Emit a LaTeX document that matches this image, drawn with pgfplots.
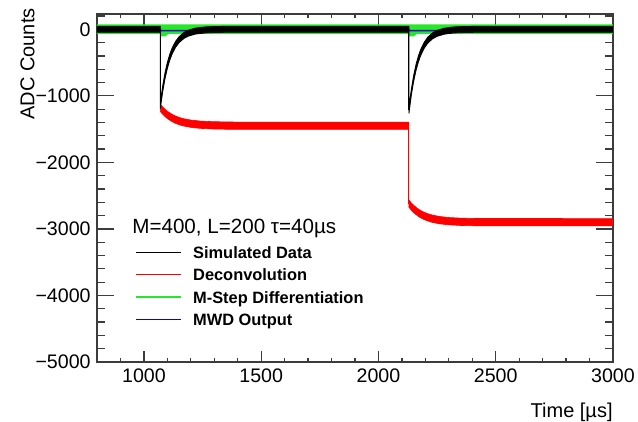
\documentclass[border=0pt]{standalone}
\usepackage{fontspec}
\setmainfont{Liberation Sans}
\usepackage{pgfplots}
\pgfplotsset{compat=1.18}

\definecolor{rootgreen}{RGB}{40,230,40}
\definecolor{mwdblue}{RGB}{0,0,240}
\definecolor{frame}{RGB}{60,60,60}

\pgfplotsset{
  root frame/.style={
    at={(0,0)}, anchor=south west,
    scale only axis,
    width=258pt, height=174pt,
    xmin=800, xmax=3000,
    ymin=-5000, ymax=230,
    tick align=inside,
    axis line style={frame, line width=0.6pt},
    tick style={frame, line width=0.6pt},
    tick label style={font=\fontsize{9.8}{11}\selectfont},
  }
}

\begin{document}
\begin{tikzpicture}
% x ticks (shorter than the y ticks)
\begin{axis}[
  root frame,
  major tick length=5.5pt, minor tick length=2.2pt,
  axis line style={draw=none},
  ytick=\empty,
  xtick={1000,1500,2000,2500,3000},
  xticklabels={1000,1500,2000,2500,3000},
  minor xtick={900,1100,1200,1300,1400,1600,1700,1800,1900,2100,2200,2300,2400,2600,2700,2800,2900},
  xticklabel style={inner sep=0pt, anchor=north, yshift=-3pt},
]
\end{axis}
\begin{axis}[
  root frame,
  major tick length=8.3pt, minor tick length=4.2pt,
  xtick=\empty,
  ytick={-5000,-4000,-3000,-2000,-1000,0},
  yticklabels={−5000,−4000,−3000,−2000,−1000,0},
  minor ytick={-4800,-4600,-4400,-4200,-3800,-3600,-3400,-3200,-2800,-2600,-2400,-2200,-1800,-1600,-1400,-1200,-800,-600,-400,-200,200},
  yticklabel style={inner sep=0pt, anchor=east, xshift=-3pt},
  xlabel={Time [µs]},
  xlabel style={at={(axis description cs:1,-0.1609)}, anchor=base east, inner sep=0pt, font=\fontsize{10}{12}\selectfont},
  ylabel={ADC Counts},
  ylabel style={at={(axis description cs:-0.1202,1.0172)}, anchor=south east, inner sep=0pt, font=\fontsize{10}{12}\selectfont},
  legend style={at={(axis description cs:0.0736,0.3333)}, anchor=north west,
    draw=none, fill=none, inner sep=0pt,
    font=\bfseries\fontsize{8.2}{9}\selectfont,
    row sep=5.15pt,
    nodes={inner sep=0pt, text height=6pt, text depth=0pt},
    /tikz/every odd column/.style={column sep=5.5pt}},
  legend cell align=left,
  legend image code/.code={\draw[#1] (0pt,0pt) -- (22.5pt,0pt);},
]
\addlegendimage{color=black, line width=0.5pt}
\addlegendentry{Simulated Data}
\addlegendimage{color=red, line width=0.5pt}
\addlegendentry{Deconvolution}
\addlegendimage{color=rootgreen, line width=0.9pt}
\addlegendentry{M-Step Differentiation}
\addlegendimage{color=mwdblue, line width=0.7pt}
\addlegendentry{MWD Output}

% Deconvolution (band of noise +-55)
\addplot[fill=red, draw=red, line width=0.3pt, forget plot] coordinates {
(1070,-1125)(1080,-1166)(1090,-1202)(1100,-1231)(1115,-1267)(1130,-1296)(1150,-1324)(1170,-1344)(1200,-1364)(1240,-1379)(1290,-1388)(1350,-1392)(1400,-1395)(2130,-1395)
(2130,-2565)(2140,-2608)(2150,-2644)(2160,-2675)(2175,-2713)(2190,-2742)(2210,-2771)(2230,-2792)(2260,-2813)(2300,-2829)(2350,-2838)(2410,-2843)(3000,-2845)
(3000,-2955)(2410,-2953)(2350,-2948)(2300,-2939)(2260,-2923)(2230,-2902)(2210,-2881)(2190,-2852)(2175,-2823)(2160,-2785)(2150,-2754)(2140,-2718)(2130,-2675)
(2130,-1505)(1400,-1505)(1350,-1502)(1290,-1498)(1240,-1489)(1200,-1474)(1170,-1454)(1150,-1434)(1130,-1406)(1115,-1377)(1100,-1341)(1090,-1312)(1080,-1276)(1070,-1235)
} -- cycle;
\addplot[red, line width=0.5pt, forget plot] coordinates {(2130,-1450) (2130,-2620)};
% M-step differentiation
\addplot[fill=rootgreen, draw=none, forget plot] coordinates {
(800,75)(3000,75)
(3000,-70)(2165,-70)(2150,-105)(2132,-105)(2130,-70)(1105,-70)(1090,-105)(1072,-105)(1070,-70)(800,-70)
} -- cycle;
% MWD output
\addplot[color=mwdblue, line width=0.7pt, forget plot] coordinates {
(800,0)(1070,0)(1072,-20)(1250,-20)(1260,0)(2130,0)(2132,-20)(2310,-20)(2320,0)(3000,0)
};
% Simulated data (band of noise +-45)
\addplot[fill=black, draw=black, line width=0.4pt, forget plot] coordinates {
(800,45)(1070,45)(1070,-1105)(1080,-851)(1090,-652)(1100,-498)(1110,-378)(1120,-284)(1135,-181)(1150,-111)(1170,-49)(1190,-12)(1220,18)(1260,35)(1300,41)(1350,45)
(2130,45)(2130,-1175)(2140,-905)(2150,-695)(2160,-531)(2170,-404)(2180,-305)(2195,-195)(2210,-120)(2230,-55)(2250,-16)(2280,16)(2320,35)(2370,42)(2420,45)(3000,45)
(3000,-45)(2420,-45)(2370,-48)(2320,-55)(2280,-74)(2250,-106)(2230,-145)(2210,-210)(2195,-285)(2180,-395)(2170,-494)(2160,-621)(2150,-785)(2140,-995)(2130,-1265)
(2130,-45)(1350,-45)(1300,-49)(1260,-55)(1220,-72)(1190,-102)(1170,-139)(1150,-201)(1135,-271)(1120,-374)(1110,-468)(1100,-588)(1090,-742)(1080,-941)(1070,-1195)
(1070,-45)(800,-45)
} -- cycle;
\addplot[black, line width=0.5pt, forget plot] coordinates {(1070,0) (1070,-1150)};
\addplot[black, line width=0.5pt, forget plot] coordinates {(2130,0) (2130,-1220)};

\node[anchor=base west, inner sep=0pt, font=\fontsize{10.3}{12}\selectfont]
  at (axis description cs:0.0678,0.3678) {M=400, L=200 τ=40µs};
\end{axis}
\pgfresetboundingbox
\path[use as bounding box] (-48.5pt,-30pt) rectangle (270.5pt,181pt);
\end{tikzpicture}
\end{document}
